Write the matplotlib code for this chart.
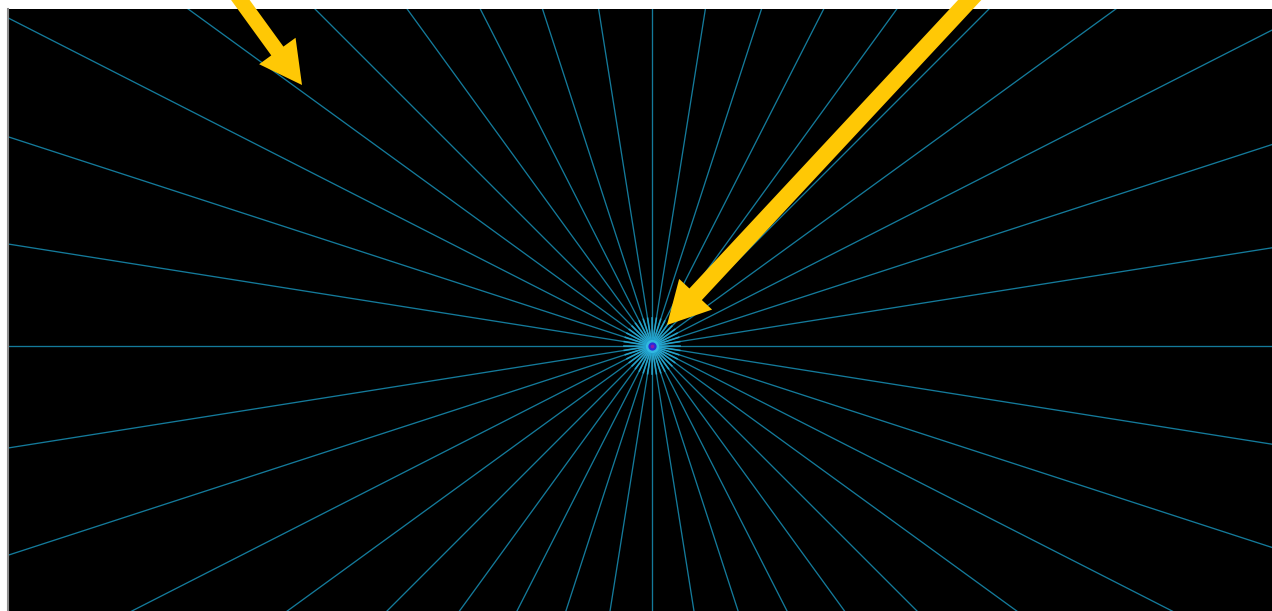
import numpy as np
import matplotlib
matplotlib.use("Agg")
import matplotlib.pyplot as plt
from matplotlib.patches import FancyArrow

# ray directions in degrees (every 9 degrees around the source)
ray_angles = [0, 9, 18, 27, 36, 45, 54, 63, 72, 81,
              90, 99, 108, 117, 126, 135, 144, 153, 162, 171,
              180, 189, 198, 207, 216, 225, 234, 243, 252, 261,
              270, 279, 288, 297, 306, 315, 324, 333, 342, 351]
ray_length = 1500

# view window around the source (pixel-like units)
x_range = [-644, 620]
y_range = [-265, 337]

# pointer arrows: tail (x, y), tip (x, y), shaft width
arrow_tails = [(-416, 352), (327, 356)]
arrow_tips = [(-350, 261), (15, 21)]
arrow_widths = [15, 17]

fig = plt.figure(figsize=(12.72, 6.11), dpi=100)
fig.patch.set_facecolor("white")
ax = fig.add_axes([8 / 1272, 0, 1 - 8 / 1272, (611 - 9) / 611])
ax.set_facecolor("black")

for a in ray_angles:
    t = np.deg2rad(a)
    ax.plot([0, ray_length * np.cos(t)], [0, ray_length * np.sin(t)],
            color="#147a9a", lw=0.95, solid_capstyle="butt")
    # brighter part near the source
    ax.plot([0, 28 * np.cos(t)], [0, 28 * np.sin(t)],
            color="#2aaed8", lw=1.2, alpha=0.8)

# glow at the source
ax.scatter([0], [0], s=200, color="#1fa8d8", alpha=0.3, lw=0, zorder=3)
ax.scatter([0], [0], s=90, color="#3cc8f0", alpha=0.6, lw=0, zorder=3)
ax.scatter([0], [0], s=35, color="#2a2ad8", lw=0, zorder=4)
ax.scatter([0], [0], s=7, color="#8a1aa8", lw=0, zorder=5)

ax.set_xlim(x_range)
ax.set_ylim(y_range)
ax.set_xticks([])
ax.set_yticks([])
for s in ["top", "right", "bottom"]:
    ax.spines[s].set_visible(False)
ax.spines["left"].set_color("#8c8c8c")
ax.spines["left"].set_linewidth(1.5)

for (x0, y0), (x1, y1), w in zip(arrow_tails, arrow_tips, arrow_widths):
    arr = FancyArrow(x0, y0, x1 - x0, y1 - y0, width=w, head_width=45,
                     head_length=42, length_includes_head=True,
                     color="#ffc805", lw=0, clip_on=False, zorder=10)
    ax.add_patch(arr)

fig.savefig("out.png", dpi=100, facecolor=fig.get_facecolor())
